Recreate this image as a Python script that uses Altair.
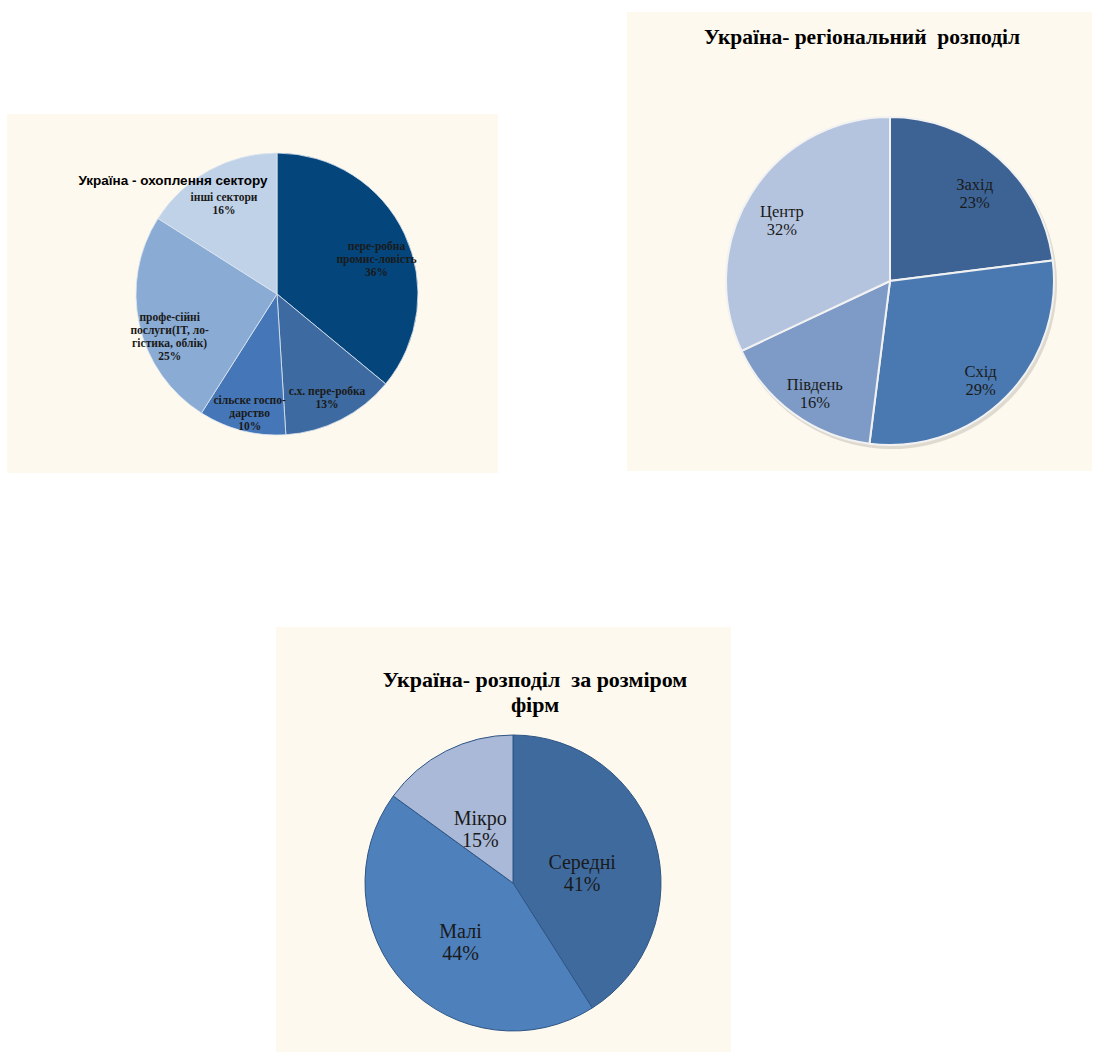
import altair as alt
import pandas as pd

# ---------------- data ----------------
sector_labels = ["пере-робна\nпромис-ловість", "с.х. пере-робка", "сільске госпо-\nдарство",
                 "профе-сійні\nпослуги(IT, ло-\nгістика, облік)", "інші сектори"]
sector_values = [36, 13, 10, 25, 16]

region_labels = ["Захід", "Схід", "Південь", "Центр"]
region_values = [23, 29, 16, 32]

size_labels = ["Середні", "Малі", "Мікро"]
size_values = [41, 44, 15]

# ---------------- styles ----------------
sector_colors = ["#04467C", "#3D6AA0", "#4577B8", "#8AABD3", "#C0D2E8"]
region_colors = ["#3C6394", "#4A78B0", "#7D9BC6", "#B5C4DE"]
size_colors = ["#3F6A9E", "#4E80BC", "#AAB9D8"]
BG = "#FEF9EE"


def make_df(labels, values, prefix):
    return pd.DataFrame({
        f"{prefix}_cat": labels,
        f"{prefix}_val": values,
        f"{prefix}_ord": list(range(len(labels))),
        f"{prefix}_txt": [f"{l}\n{v}%" for l, v in zip(labels, values)],
    })


def pie(df, prefix, colors, cx, cy, r, label_r, font_size, stroke, stroke_w,
        font_weight="normal", shadow=False, line_h=None):
    base = alt.Chart(df).encode(
        theta=alt.Theta(f"{prefix}_val:Q", stack=True,
                        scale=alt.Scale(domain=[0, 100])),
        order=alt.Order(f"{prefix}_ord:Q"),
    )
    arc = base.mark_arc(outerRadius=r, stroke=stroke, strokeWidth=stroke_w).encode(
        color=alt.Color(f"{prefix}_cat:N",
                        scale=alt.Scale(domain=list(df[f"{prefix}_cat"]), range=colors),
                        legend=None),
        x=alt.value(cx), y=alt.value(cy),
    )
    layers = []
    if shadow:
        sh = base.mark_arc(outerRadius=r + 1, color="#C9C4BA", opacity=0.6).encode(
            x=alt.value(cx + 2), y=alt.value(cy + 3))
        layers.append(sh)
    layers.append(arc)
    txt = base.mark_text(radius=label_r, font="Liberation Serif", fontSize=font_size,
                         fontWeight=font_weight, color="#1A1A1A", lineBreak="\n",
                         lineHeight=line_h or font_size * 1.15,
                         align="center", baseline="middle").encode(
        text=f"{prefix}_txt:N",
        x=alt.value(cx), y=alt.value(cy),
    )
    layers.append(txt)
    return alt.layer(*layers)


def bg_rect(x1, y1, x2, y2):
    return alt.Chart(pd.DataFrame({"a": [0]})).mark_rect(color=BG).encode(
        x=alt.value(x1), x2=alt.value(x2), y=alt.value(y1), y2=alt.value(y2))


def title_text(lines, x, y, font, size, weight="bold", line_h=None):
    return alt.Chart(pd.DataFrame({"t": [lines]})).mark_text(
        font=font, fontSize=size, fontWeight=weight, color="#000000",
        align="center", baseline="middle", lineBreak="\n", lineHeight=line_h or size * 1.2
    ).encode(text="t:N", x=alt.value(x), y=alt.value(y))


df1 = make_df(sector_labels, sector_values, "s")
df2 = make_df(region_labels, region_values, "r")
df3 = make_df(size_labels, size_values, "z")

p1 = pie(df1, "s", sector_colors, 277, 294, 141, 110, 11.5, "#DDE6F0", 0.8,
         font_weight="bold", line_h=13)
p2 = pie(df2, "r", region_colors, 890, 281, 164, 128, 16.5, "#F2F2F2", 2, shadow=True,
         line_h=18)
p3 = pie(df3, "z", size_colors, 513, 883, 148, 72, 20, "#2E5585", 1, line_h=22)

NB = "\u00a0"
chart = alt.layer(
    bg_rect(7, 114, 498, 473),
    bg_rect(627, 12, 1092, 471),
    bg_rect(276, 627, 731, 1052),
    p1,
    title_text("Україна - охоплення сектору", 173, 181, "Liberation Sans", 13.5),
    p2,
    title_text(f"Україна- регіональний {NB}розподіл", 862, 38, "Liberation Serif", 21.5),
    p3,
    title_text(f"Україна- розподіл {NB}за розміром\nфірм", 535, 680, "Liberation Serif", 22,
               line_h=25),
).resolve_scale(
    color="independent", theta="independent"
).properties(
    width=1095, height=1052, padding=0,
    autosize=alt.AutoSizeParams(type="none"),
    background="white",
).configure_view(stroke=None)

chart.save("out.html", embed_options={"renderer": "svg", "actions": False})
